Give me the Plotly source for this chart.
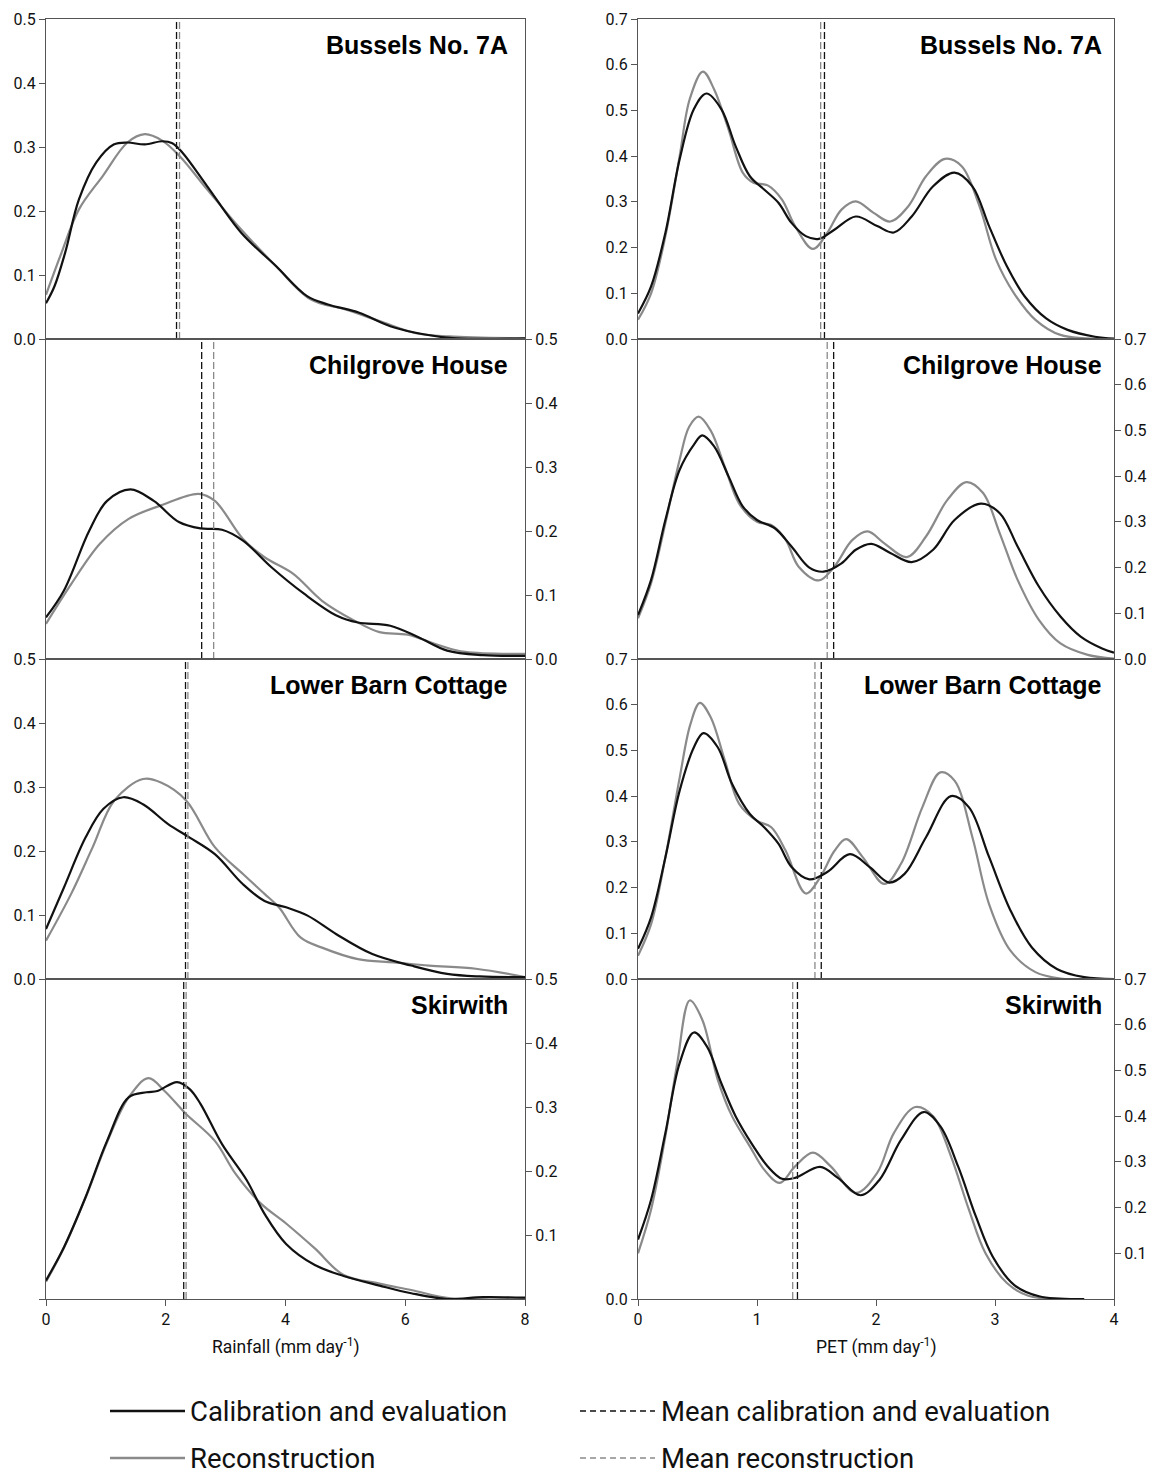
import plotly.graph_objects as go

# page offset of the figure (default body margin) is compensated below
OFF = 8
W, H = 1155 - OFF, 1475 - OFF

stations = ["Bussels No. 7A", "Chilgrove House", "Lower Barn Cottage", "Skirwith"]

# ---------------- Rainfall densities ----------------
rain_bus_cal_x = [0, 0.14, 0.32, 0.55, 0.84, 1.13, 1.36, 1.65, 1.94, 2.11, 2.28, 2.69, 3.26, 3.84, 4.36, 4.71, 5.23, 5.75, 6.33, 6.85, 8.0]
rain_bus_cal_y = [0.056, 0.082, 0.135, 0.218, 0.276, 0.304, 0.307, 0.304, 0.309, 0.306, 0.291, 0.239, 0.166, 0.114, 0.067, 0.054, 0.041, 0.020, 0.007, 0.001, 0.001]
rain_bus_rec_x = [0, 0.26, 0.55, 0.95, 1.36, 1.65, 1.94, 2.23, 2.69, 3.26, 3.84, 4.42, 5.0, 5.57, 6.16, 6.73, 8.0]
rain_bus_rec_y = [0.069, 0.135, 0.2025, 0.255, 0.307, 0.32, 0.31, 0.286, 0.234, 0.171, 0.114, 0.062, 0.046, 0.028, 0.0094, 0.004, 0.001]

rain_chil_cal_x = [0, 0.30, 0.72, 1.02, 1.41, 1.80, 2.22, 2.58, 2.94, 3.29, 3.77, 4.31, 4.85, 5.21, 5.75, 6.22, 6.70, 7.30, 8.0]
rain_chil_cal_y = [0.065, 0.107, 0.20, 0.247, 0.265, 0.247, 0.214, 0.204, 0.202, 0.185, 0.143, 0.102, 0.068, 0.057, 0.052, 0.034, 0.013, 0.006, 0.005]
rain_chil_rec_x = [0, 0.42, 0.90, 1.38, 1.92, 2.55, 2.82, 3.29, 3.65, 4.13, 4.61, 5.15, 5.57, 6.04, 6.58, 7.0, 8.0]
rain_chil_rec_y = [0.055, 0.117, 0.18, 0.219, 0.24, 0.258, 0.247, 0.1875, 0.159, 0.133, 0.091, 0.06, 0.042, 0.038, 0.021, 0.011, 0.008]

rain_lbc_cal_x = [0, 0.30, 0.66, 0.96, 1.29, 1.62, 2.04, 2.40, 2.82, 3.29, 3.65, 4.01, 4.37, 4.85, 5.45, 6.10, 6.70, 7.24, 8.0]
rain_lbc_cal_y = [0.078, 0.143, 0.221, 0.266, 0.284, 0.273, 0.242, 0.221, 0.195, 0.148, 0.122, 0.112, 0.099, 0.070, 0.039, 0.021, 0.008, 0.004, 0.003]
rain_lbc_rec_x = [0, 0.42, 0.78, 1.14, 1.62, 1.92, 2.34, 2.82, 3.29, 3.65, 3.89, 4.25, 4.61, 5.21, 5.81, 6.40, 7.18, 8.0]
rain_lbc_rec_y = [0.06, 0.133, 0.206, 0.279, 0.3125, 0.307, 0.279, 0.206, 0.164, 0.133, 0.112, 0.065, 0.049, 0.031, 0.026, 0.021, 0.016, 0.003]

rain_skir_cal_x = [0, 0.30, 0.66, 1.02, 1.38, 1.68, 1.86, 2.19, 2.40, 2.58, 2.94, 3.35, 3.65, 4.01, 4.49, 4.97, 5.57, 6.10, 6.70, 7.30, 8.0]
rain_skir_cal_y = [0.029, 0.081, 0.159, 0.247, 0.315, 0.323, 0.325, 0.339, 0.328, 0.305, 0.242, 0.186, 0.133, 0.086, 0.053, 0.036, 0.021, 0.009, 0.0, 0.003, 0.002]
rain_skir_rec_x = [0, 0.30, 0.66, 1.02, 1.38, 1.71, 1.98, 2.34, 2.82, 3.17, 3.59, 4.01, 4.49, 4.97, 5.57, 6.10, 6.76, 8.0]
rain_skir_rec_y = [0.027, 0.08, 0.158, 0.245, 0.315, 0.345, 0.325, 0.289, 0.247, 0.195, 0.149, 0.118, 0.079, 0.0375, 0.024, 0.014, 0.001, 0.001]

rain_mean_cal = [2.18, 2.60, 2.33, 2.30]
rain_mean_rec = [2.23, 2.80, 2.37, 2.34]

# ---------------- PET densities ----------------
pet_bus_cal_x = [0, 0.11, 0.23, 0.35, 0.47, 0.575, 0.70, 0.82, 0.94, 1.06, 1.18, 1.29, 1.41, 1.52, 1.65, 1.83, 2.01, 2.15, 2.30, 2.48, 2.66, 2.81, 2.95, 3.10, 3.25, 3.43, 3.61, 3.84, 4.0]
pet_bus_cal_y = [0.056, 0.115, 0.232, 0.393, 0.503, 0.537, 0.503, 0.422, 0.356, 0.327, 0.298, 0.254, 0.225, 0.219, 0.239, 0.268, 0.247, 0.233, 0.268, 0.334, 0.364, 0.334, 0.247, 0.159, 0.093, 0.045, 0.020, 0.005, 0.001]
pet_bus_rec_x = [0, 0.11, 0.23, 0.35, 0.435, 0.545, 0.64, 0.76, 0.88, 0.97, 1.09, 1.21, 1.32, 1.47, 1.59, 1.71, 1.83, 1.98, 2.12, 2.27, 2.42, 2.58, 2.72, 2.87, 3.01, 3.16, 3.34, 3.55, 4.0]
pet_bus_rec_y = [0.042, 0.10, 0.225, 0.40, 0.525, 0.585, 0.546, 0.459, 0.364, 0.342, 0.336, 0.305, 0.247, 0.197, 0.232, 0.283, 0.301, 0.276, 0.257, 0.29, 0.356, 0.394, 0.378, 0.29, 0.173, 0.10, 0.042, 0.009, 0.0]

pet_chil_cal_x = [0, 0.11, 0.23, 0.35, 0.47, 0.54, 0.64, 0.76, 0.88, 1.0, 1.15, 1.29, 1.44, 1.56, 1.71, 1.83, 1.96, 2.12, 2.30, 2.48, 2.66, 2.88, 3.04, 3.19, 3.37, 3.55, 3.72, 3.90, 4.0]
pet_chil_cal_y = [0.096, 0.173, 0.304, 0.414, 0.469, 0.489, 0.465, 0.40, 0.334, 0.304, 0.286, 0.246, 0.20, 0.191, 0.209, 0.239, 0.252, 0.232, 0.212, 0.239, 0.304, 0.34, 0.319, 0.246, 0.158, 0.093, 0.049, 0.023, 0.014]
pet_chil_rec_x = [0, 0.11, 0.23, 0.35, 0.43, 0.51, 0.61, 0.73, 0.85, 1.0, 1.12, 1.24, 1.35, 1.52, 1.65, 1.80, 1.93, 2.07, 2.26, 2.42, 2.60, 2.76, 2.90, 3.04, 3.19, 3.37, 3.55, 3.78, 4.0]
pet_chil_rec_y = [0.089, 0.166, 0.297, 0.436, 0.508, 0.53, 0.50, 0.42, 0.34, 0.30, 0.293, 0.261, 0.202, 0.172, 0.202, 0.26, 0.279, 0.253, 0.223, 0.268, 0.348, 0.387, 0.363, 0.275, 0.173, 0.085, 0.034, 0.009, 0.001]

pet_lbc_cal_x = [0, 0.11, 0.23, 0.35, 0.47, 0.55, 0.67, 0.79, 0.94, 1.06, 1.18, 1.29, 1.44, 1.59, 1.78, 1.95, 2.11, 2.24, 2.42, 2.63, 2.78, 2.95, 3.13, 3.31, 3.52, 3.75, 4.0]
pet_lbc_cal_y = [0.066, 0.135, 0.266, 0.412, 0.507, 0.538, 0.507, 0.427, 0.361, 0.332, 0.296, 0.245, 0.218, 0.234, 0.273, 0.244, 0.211, 0.23, 0.31, 0.40, 0.376, 0.267, 0.15, 0.069, 0.022, 0.004, 0.0]
pet_lbc_rec_x = [0, 0.11, 0.23, 0.35, 0.44, 0.52, 0.61, 0.73, 0.85, 1.0, 1.12, 1.24, 1.41, 1.53, 1.65, 1.75, 1.89, 2.07, 2.21, 2.39, 2.54, 2.66, 2.81, 2.95, 3.13, 3.34, 3.55, 4.0]
pet_lbc_rec_y = [0.051, 0.12, 0.266, 0.44, 0.557, 0.604, 0.573, 0.478, 0.383, 0.346, 0.332, 0.281, 0.187, 0.222, 0.28, 0.306, 0.266, 0.208, 0.252, 0.376, 0.452, 0.434, 0.31, 0.164, 0.062, 0.015, 0.001, 0.0]

pet_skir_cal_x = [0, 0.11, 0.23, 0.35, 0.47, 0.58, 0.70, 0.82, 0.97, 1.09, 1.21, 1.32, 1.53, 1.68, 1.87, 2.03, 2.21, 2.40, 2.54, 2.69, 2.84, 2.98, 3.16, 3.37, 3.75]
pet_skir_cal_y = [0.13, 0.217, 0.363, 0.516, 0.583, 0.552, 0.472, 0.40, 0.334, 0.29, 0.263, 0.265, 0.289, 0.265, 0.227, 0.261, 0.348, 0.409, 0.378, 0.29, 0.18, 0.093, 0.031, 0.006, 0.0]
pet_skir_rec_x = [0, 0.11, 0.23, 0.33, 0.435, 0.54, 0.67, 0.79, 0.94, 1.06, 1.19, 1.32, 1.47, 1.62, 1.83, 2.01, 2.15, 2.33, 2.48, 2.63, 2.78, 2.92, 3.10, 3.28, 3.6]
pet_skir_rec_y = [0.10, 0.196, 0.356, 0.516, 0.653, 0.611, 0.48, 0.40, 0.334, 0.283, 0.254, 0.29, 0.32, 0.29, 0.232, 0.276, 0.363, 0.42, 0.40, 0.312, 0.196, 0.10, 0.035, 0.007, 0.0]

pet_mean_cal = [1.567, 1.644, 1.54, 1.34]
pet_mean_rec = [1.535, 1.59, 1.487, 1.30]

rain_ticks = [0, 2, 4, 6, 8]
pet_ticks = [0, 1, 2, 3, 4]
rain_yticks = [0.0, 0.1, 0.2, 0.3, 0.4, 0.5]
pet_yticks = [0.0, 0.1, 0.2, 0.3, 0.4, 0.5, 0.6, 0.7]

rain_cal = [(rain_bus_cal_x, rain_bus_cal_y), (rain_chil_cal_x, rain_chil_cal_y),
            (rain_lbc_cal_x, rain_lbc_cal_y), (rain_skir_cal_x, rain_skir_cal_y)]
rain_rec = [(rain_bus_rec_x, rain_bus_rec_y), (rain_chil_rec_x, rain_chil_rec_y),
            (rain_lbc_rec_x, rain_lbc_rec_y), (rain_skir_rec_x, rain_skir_rec_y)]
pet_cal = [(pet_bus_cal_x, pet_bus_cal_y), (pet_chil_cal_x, pet_chil_cal_y),
           (pet_lbc_cal_x, pet_lbc_cal_y), (pet_skir_cal_x, pet_skir_cal_y)]
pet_rec = [(pet_bus_rec_x, pet_bus_rec_y), (pet_chil_rec_x, pet_chil_rec_y),
           (pet_lbc_rec_x, pet_lbc_rec_y), (pet_skir_rec_x, pet_skir_rec_y)]

BLACK = "#111111"
GREY = "#8a8a8a"
AXC = "#555555"
NARROW = "Roboto, Liberation Sans, Arial, sans-serif"
BOLD = "Liberation Sans, Arial, Helvetica, sans-serif"
TICKFONT = dict(family=NARROW, size=16, color="#111")

def px_x(p):
    return (p - OFF) / W

def px_y(p):
    return 1 - (p - OFF) / H

col_dom = [[px_x(46), px_x(525)], [px_x(638), px_x(1114)]]
row_edges = [19, 339, 659, 979, 1299]

fig = go.Figure()
layout = dict(
    width=W, height=H, margin=dict(l=0, r=0, t=0, b=0, pad=0, autoexpand=False),
    paper_bgcolor="white", plot_bgcolor="white", showlegend=False,
    annotations=[], shapes=[],
)

for r in range(4):
    ydom = [px_y(row_edges[r + 1]), px_y(row_edges[r])]
    for c in range(2):
        i = r * 2 + c + 1
        xa = "x" if i == 1 else f"x{i}"
        ya = "y" if i == 1 else f"y{i}"
        xkey = "xaxis" if i == 1 else f"xaxis{i}"
        ykey = "yaxis" if i == 1 else f"yaxis{i}"
        if c == 0:
            xr, yr = [0, 8], [0, 0.5]
            cal, rec = rain_cal[r], rain_rec[r]
            mc, mr = rain_mean_cal[r], rain_mean_rec[r]
            xt, yt = rain_ticks, rain_yticks
        else:
            xr, yr = [0, 4], [0, 0.7]
            cal, rec = pet_cal[r], pet_rec[r]
            mc, mr = pet_mean_cal[r], pet_mean_rec[r]
            xt, yt = pet_ticks, pet_yticks
        bottom = (r == 3)
        layout[xkey] = dict(
            domain=col_dom[c], range=xr, anchor=ya, showgrid=False, zeroline=False,
            showline=True, mirror=True, linecolor=AXC, linewidth=1.2, automargin=False,
            ticks="outside" if bottom else "", ticklen=6, tickcolor=AXC,
            tickvals=xt, showticklabels=bottom, tickfont=TICKFONT,
        )
        side = "left" if r % 2 == 0 else "right"
        ytv = list(yt)
        if r == 3:
            ytv = [v for v in yt if v > 0]
        layout[ykey] = dict(
            domain=ydom, range=yr, anchor=xa, side=side, showgrid=False, zeroline=False,
            showline=True, mirror=True, linecolor=AXC, linewidth=1.2, automargin=False,
            ticks="outside", ticklen=6, tickcolor=AXC,
            tickvals=ytv, ticktext=[f"{v:.1f}" for v in ytv], tickfont=TICKFONT,
        )
        # curves
        fig.add_trace(go.Scatter(x=rec[0], y=rec[1], mode="lines", xaxis=xa, yaxis=ya,
                                 line=dict(color=GREY, width=2.2, shape="spline", smoothing=1.0),
                                 hoverinfo="skip"))
        fig.add_trace(go.Scatter(x=cal[0], y=cal[1], mode="lines", xaxis=xa, yaxis=ya,
                                 line=dict(color=BLACK, width=2.2, shape="spline", smoothing=1.0),
                                 hoverinfo="skip"))
        # mean lines
        fig.add_trace(go.Scatter(x=[mr, mr], y=yr, mode="lines", xaxis=xa, yaxis=ya,
                                 line=dict(color=GREY, width=1.3, dash="7px,3px"), hoverinfo="skip"))
        fig.add_trace(go.Scatter(x=[mc, mc], y=yr, mode="lines", xaxis=xa, yaxis=ya,
                                 line=dict(color=BLACK, width=1.3, dash="7px,3px"), hoverinfo="skip"))
        # station title
        layout["annotations"].append(dict(
            text=f"<b>{stations[r]}</b>", xref=f"{xa} domain", yref=f"{ya} domain",
            x=0.968 if c == 0 else 0.978, y=0.918, xanchor="right", yanchor="middle",
            showarrow=False, font=dict(family=BOLD, size=25, color="#000"),
        ))

# extra left-side tick at 0 on bottom row panels
for c, (key, xa, ya, showlab) in enumerate([("yaxis9", "x7", "y7", False), ("yaxis10", "x8", "y8", True)]):
    base = layout["yaxis7" if c == 0 else "yaxis8"]
    layout[key] = dict(
        domain=base["domain"], range=base["range"], anchor=xa, overlaying=ya, side="left",
        showgrid=False, zeroline=False, showline=False, ticks="outside", ticklen=6,
        tickcolor=AXC, tickvals=[0], ticktext=["0.0"], showticklabels=showlab,
        automargin=False, tickfont=TICKFONT,
    )
    fig.add_trace(go.Scatter(x=[None], y=[None], xaxis=xa, yaxis="y9" if c == 0 else "y10",
                             mode="lines", hoverinfo="skip"))

# axis titles
layout["annotations"].append(dict(
    text="Rainfall (mm day<sup>-1</sup>)", xref="paper", yref="paper",
    x=px_x(285.5), y=px_y(1346), xanchor="center", yanchor="middle", showarrow=False,
    font=dict(family=NARROW, size=17.5, color="#111")))
layout["annotations"].append(dict(
    text="PET (mm day<sup>-1</sup>)", xref="paper", yref="paper",
    x=px_x(876), y=px_y(1346), xanchor="center", yanchor="middle", showarrow=False,
    font=dict(family=NARROW, size=17.5, color="#111")))

# legend
legend_items = [
    ("Calibration and evaluation", BLACK, "solid", 110, 185, 188, 1411, 2.4),
    ("Reconstruction", GREY, "solid", 110, 185, 188, 1458, 2.4),
    ("Mean calibration and evaluation", BLACK, "6px,4px", 580, 655, 659, 1411, 1.3),
    ("Mean reconstruction", GREY, "6px,4px", 580, 655, 659, 1458, 1.3),
]
for text, col, dash, x0, x1, tx, yy, lw in legend_items:
    layout["shapes"].append(dict(type="line", xref="paper", yref="paper",
                                 x0=px_x(x0), x1=px_x(x1), y0=px_y(yy), y1=px_y(yy),
                                 line=dict(color=col, width=lw, dash=dash)))
    layout["annotations"].append(dict(
        text=text, xref="paper", yref="paper", x=px_x(tx), y=px_y(yy),
        xanchor="left", yanchor="middle", showarrow=False,
        font=dict(family=NARROW, size=27.5, color="#111")))

fig.update_layout(**layout)
fig.write_html("out.html")
